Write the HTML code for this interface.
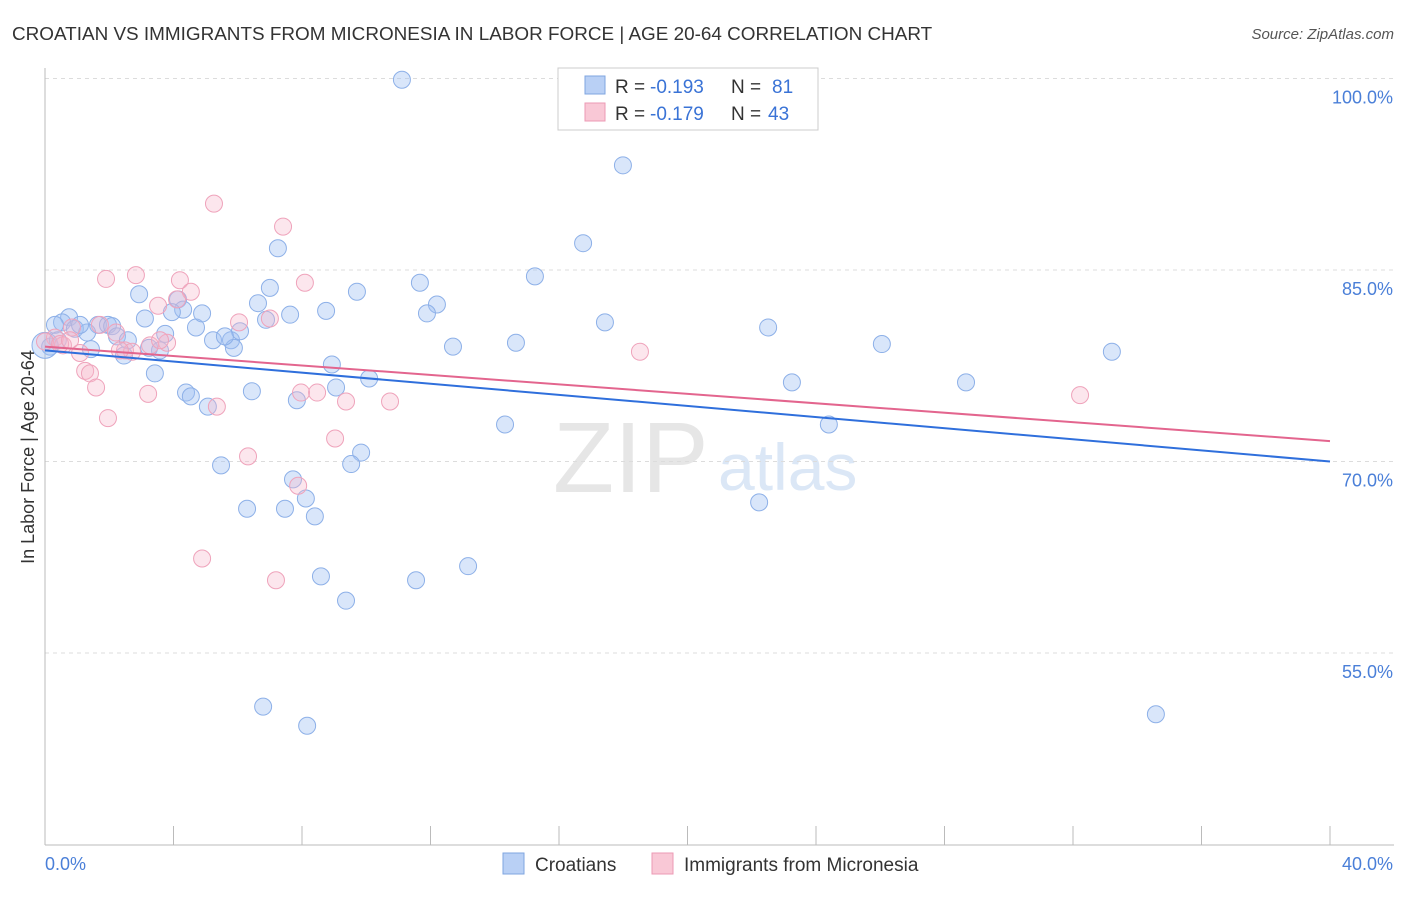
<!DOCTYPE html>
<html><head><meta charset="utf-8"><style>
body{margin:0;background:#fff;font-family:"Liberation Sans",sans-serif}
svg text{font-family:"Liberation Sans",sans-serif}
</style></head><body>
<svg id="c" width="1406" height="892" xmlns="http://www.w3.org/2000/svg">
<text x="12" y="40" font-size="18.9" fill="#333">CROATIAN VS IMMIGRANTS FROM MICRONESIA IN LABOR FORCE | AGE 20-64 CORRELATION CHART</text>
<text x="1394" y="39" font-size="15" fill="#555" font-style="italic" text-anchor="end">Source: ZipAtlas.com</text>
<text x="553" y="492" font-size="100" fill="#e6e6e6" font-family="Liberation Serif">ZIP</text>
<text x="718" y="490" font-size="66" fill="#dbe7f6">atlas</text>
<g id="grid"></g><g id="axes"></g><g id="pts"></g><g id="trend"></g>
<text transform="translate(34,457) rotate(-90)" font-size="18" fill="#333" text-anchor="middle">In Labor Force | Age 20-64</text>
<g>
<rect x="558" y="68" width="260" height="62" fill="#fff" stroke="#ccc"/>
<rect x="585" y="76" width="20" height="18" fill="#b9d0f5" stroke="#7fa6e0"/>
<rect x="585" y="103" width="20" height="18" fill="#f9c8d6" stroke="#ec9ab4"/>
<text x="615" y="93" font-size="19" fill="#333">R =</text>
<text x="650" y="93" font-size="19" fill="#3a73d6">-0.193</text>
<text x="731" y="93" font-size="19" fill="#333">N =</text>
<text x="772" y="93" font-size="19" fill="#3a73d6">81</text>
<text x="615" y="120" font-size="19" fill="#333">R =</text>
<text x="650" y="120" font-size="19" fill="#3a73d6">-0.179</text>
<text x="731" y="120" font-size="19" fill="#333">N =</text>
<text x="768" y="120" font-size="19" fill="#3a73d6">43</text>
</g>
<g>
<rect x="503" y="853" width="21" height="21" fill="#b9d0f5" stroke="#7fa6e0"/>
<text x="535" y="871" font-size="19" fill="#333">Croatians</text>
<rect x="652" y="853" width="21" height="21" fill="#f9c8d6" stroke="#ec9ab4"/>
<text x="684" y="871" font-size="19" fill="#333">Immigrants from Micronesia</text>
</g>
</svg>
<script>
const blueX=[11.11,17.99,16.75,7.25,15.25,11.67,2.93,7.0,9.71,12.2,4.14,11.89,8.75,7.63,6.63,17.43,22.51,26.05,33.21,14.66,12.7,0.75,0.53,0.31,0.93,1.65,1.96,2.09,1.31,2.24,2.58,3.11,3.74,4.30,4.70,4.89,5.23,5.79,5.88,6.07,5.60,3.95,3.24,2.46,1.43,0.16,3.58,6.88,8.93,3.42,10.09,9.06,4.39,4.54,6.44,7.84,5.07,14.32,24.4,23.25,28.67,9.84,9.53,5.48,7.72,8.12,6.29,7.47,8.40,22.23,13.17,11.55,8.59,9.37,6.79,8.16,34.58,0,0.4,1.09];
const blueY=[99.9,93.2,87.1,86.7,84.5,84.0,83.1,83.6,83.3,82.3,82.7,81.6,81.8,81.5,82.4,80.9,80.5,79.2,78.6,79.3,79.0,81.3,80.9,80.7,80.4,80.7,80.7,80.6,80.1,79.8,79.5,81.2,80.0,81.9,80.5,81.6,79.5,79.5,78.9,80.2,79.8,81.7,78.9,78.3,78.8,79.0,78.7,81.1,77.6,76.9,76.5,75.8,75.4,75.1,75.5,74.8,74.3,72.9,72.9,76.2,76.2,70.7,69.8,69.7,68.6,67.1,66.3,66.3,65.7,66.8,61.8,60.7,61.0,59.1,50.8,49.3,50.2,79.1,79.5,80.7];
const pinkX=[5.26,7.41,2.83,1.90,4.20,8.09,4.54,4.11,3.52,6.04,7.0,1.71,2.21,0.84,0.31,0,0.56,1.09,2.49,2.71,3.27,3.80,18.52,1.25,1.40,1.59,3.21,5.35,7.97,8.47,9.37,10.74,32.22,1.96,9.03,6.32,7.88,4.89,7.19,0.47,0.78,2.33,3.58];
const pinkY=[90.2,88.4,84.6,84.3,84.2,84.0,83.3,82.7,82.2,80.9,81.2,80.7,80.1,80.5,79.7,79.4,79.1,78.5,78.7,78.6,79.1,79.3,78.6,77.1,76.9,75.8,75.3,74.3,75.4,75.4,74.7,74.7,75.2,73.4,71.8,70.4,68.1,62.4,60.7,79.2,79.5,78.7,79.5];
const blueTrend=[78.7,70.0];
const pinkTrend=[79.0,71.6];
const yTicks=[100,85,70,55];
const xTickLabels=["0.0%","40.0%"];
const NS="http://www.w3.org/2000/svg";
const sx=v=>45+v/40*1285;
const sy=v=>78.5+(100-v)/15*191.5;
function mk(tag,attrs,parent){const e=document.createElementNS(NS,tag);for(const k in attrs)e.setAttribute(k,attrs[k]);document.getElementById(parent).appendChild(e);return e;}
yTicks.forEach(t=>{
 const l=mk('line',{x1:45,x2:1394,y1:sy(t),y2:sy(t),stroke:'#dcdcdc','stroke-dasharray':'4,4'},'grid');
 
 
 const tx=mk('text',{x:1393,y:sy(t)+25,'font-size':18,fill:'#4a7fd8','text-anchor':'end'},'grid');
 tx.textContent=t.toFixed(1)+'%';
 
 
});
let ax=mk('line',{x1:45,x2:45,y1:68,y2:845,stroke:'#bbb'},'axes');


ax=mk('line',{x1:45,x2:1394,y1:845,y2:845,stroke:'#bbb'},'axes');


for(let i=0;i<=10;i++){const t=mk('line',{x1:sx(i*4),x2:sx(i*4),y1:826,y2:845,stroke:'#bbb'},'axes');
 
 }
[[0,'start'],[40,'end']].forEach((p,i)=>{const t=mk('text',{x:sx(p[0])+(i?63:0),y:870,'font-size':18,fill:'#4a7fd8','text-anchor':p[1]},'axes');t.textContent=xTickLabels[i];
 
 });
function pts(X,Y,fill,stroke,name){X.forEach((x,i)=>{const c=mk('circle',{cx:sx(x),cy:sy(Y[i]),r:(x===0&&name==='croatian-point')?13:8.5,fill:fill,stroke:stroke,'stroke-width':1},'pts');
 
 });}
pts(blueX,blueY,'rgba(160,192,242,0.4)','#8db0e8','croatian-point');
pts(pinkX,pinkY,'rgba(247,182,202,0.35)','#efa3bb','micronesia-point');
let tl=mk('line',{x1:sx(0),y1:sy(blueTrend[0]),x2:sx(40),y2:sy(blueTrend[1]),stroke:'#2f6fdc','stroke-width':2},'trend');


tl=mk('line',{x1:sx(0),y1:sy(pinkTrend[0]),x2:sx(40),y2:sy(pinkTrend[1]),stroke:'#e3658e','stroke-width':2},'trend');


</script>
</body></html>
